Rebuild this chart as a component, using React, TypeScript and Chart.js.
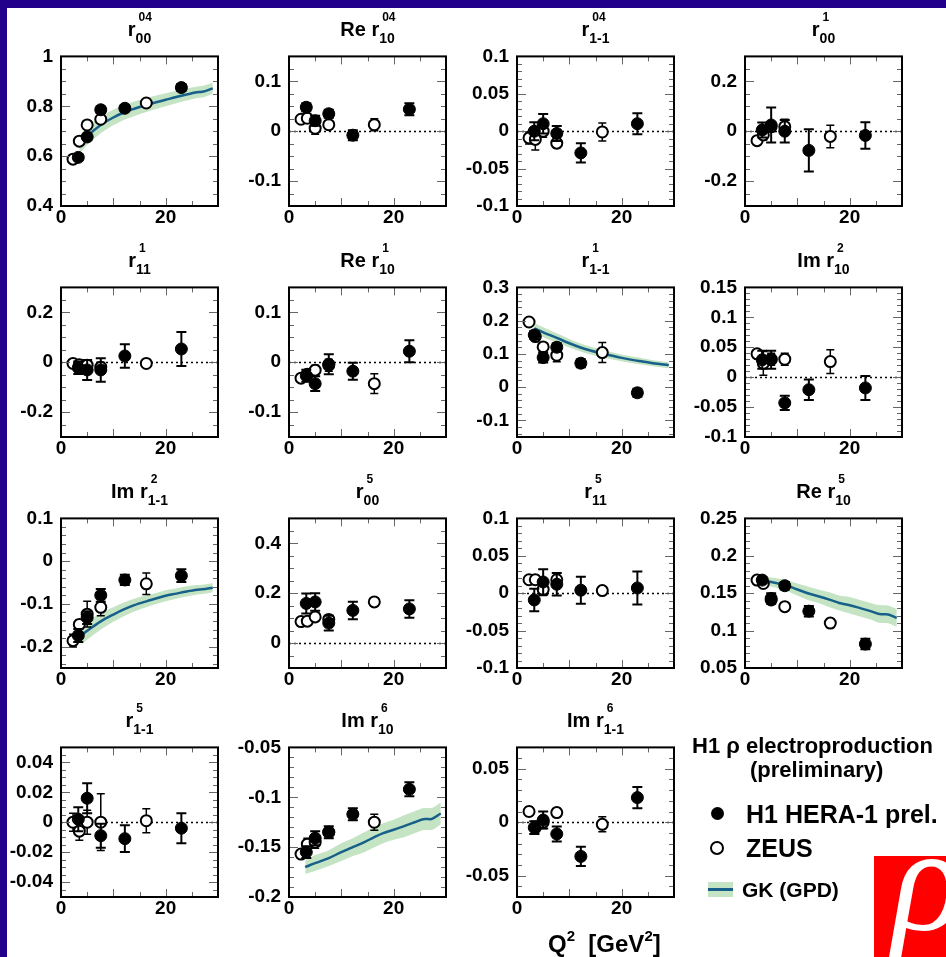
import React, { useEffect, useRef } from 'react';
import { Chart, registerables } from 'chart.js';

Chart.register(...registerables);

const FONT = "'Liberation Sans', Arial, Helvetica, sans-serif";
const BLUE = '#23008c';
const BAND = 'rgb(196, 228, 196)';
const LINE = '#17608a';

// ---------- data ----------
const h1Q2 = [3.3, 5.0, 7.6, 12.2, 23.0];
const zeusQ2 = [2.3, 3.5, 5.0, 7.6, 16.3];
const xTickLabels = [0, 20];

// r00^04
const r00_04_yTicks = [0.4, 0.6, 0.8, 1];
const r00_04_h1 = [0.595, 0.677, 0.786, 0.792, 0.875];
const r00_04_h1Err = [0.012, 0.012, 0.013, 0.012, 0.014];
const r00_04_zeus = [0.588, 0.66, 0.725, 0.748, 0.813];
const r00_04_zeusErr = [0.01, 0.01, 0.012, 0.012, 0.012];
const gk_r00_04_x = [3.5, 5, 7.6, 10, 12, 14, 16.3, 18, 20, 22, 24, 26, 27, 29];
const gk_r00_04_y = [0.645, 0.68, 0.725, 0.755, 0.775, 0.79, 0.805, 0.815, 0.826, 0.837, 0.847, 0.856, 0.858, 0.872];
const gk_r00_04_band = [0.035, 0.035, 0.033, 0.031, 0.03, 0.029, 0.028, 0.027, 0.026, 0.025, 0.024, 0.023, 0.023, 0.022];

// Re r10^04
const re_r10_04_yTicks = [-0.1, 0, 0.1];
const re_r10_04_h1 = [0.048, 0.021, 0.035, -0.008, 0.044];
const re_r10_04_h1Err = [0.008, 0.01, 0.008, 0.01, 0.012];
const re_r10_04_zeus = [0.024, 0.026, 0.006, 0.013, 0.013];
const re_r10_04_zeusErr = [0.005, 0.006, 0.012, 0.008, 0.012];

// r1-1^04
const r1m1_04_yTicks = [-0.1, -0.05, 0, 0.05, 0.1];
const r1m1_04_h1 = [0.0, 0.01, -0.003, -0.029, 0.01];
const r1m1_04_h1Err = [0.012, 0.013, 0.01, 0.013, 0.014];
const r1m1_04_zeus = [-0.009, -0.011, 0.0, -0.016, -0.001];
const r1m1_04_zeusErr = [0.008, 0.014, 0.008, 0.006, 0.012];

// r00^1
const r00_1_yTicks = [-0.2, 0, 0.2];
const r00_1_h1 = [0.005, 0.025, 0.0, -0.077, -0.017];
const r00_1_h1Err = [0.03, 0.07, 0.045, 0.085, 0.053];
const r00_1_zeus = [-0.038, -0.015, 0.018, 0.018, -0.021];
const r00_1_zeusErr = [0.01, 0.02, 0.02, 0.03, 0.045];

// r11^1
const r11_1_yTicks = [-0.2, 0, 0.2];
const r11_1_h1 = [-0.022, -0.031, -0.031, 0.025, 0.053];
const r11_1_h1Err = [0.025, 0.04, 0.047, 0.047, 0.068];
const r11_1_zeus = [-0.005, -0.01, -0.012, -0.02, -0.005];
const r11_1_zeusErr = [0.01, 0.015, 0.015, 0.02, 0.01];

// Re r10^1
const re_r10_1_yTicks = [-0.1, 0, 0.1];
const re_r10_1_h1 = [-0.027, -0.043, -0.004, -0.018, 0.022];
const re_r10_1_h1Err = [0.012, 0.015, 0.02, 0.017, 0.022];
const re_r10_1_zeus = [-0.032, -0.024, -0.016, -0.006, -0.043];
const re_r10_1_zeusErr = [0.006, 0.008, 0.01, 0.012, 0.02];

// r1-1^1
const r1m1_1_yTicks = [-0.1, 0, 0.1, 0.2, 0.3];
const r1m1_1_h1 = [0.157, 0.089, 0.12, 0.072, -0.017];
const r1m1_1_h1Err = [0.012, 0.015, 0.012, 0.012, 0.012];
const r1m1_1_zeus = [0.196, 0.152, 0.121, 0.096, 0.104];
const r1m1_1_zeusErr = [0.008, 0.012, 0.012, 0.02, 0.03];
const gk_r1m1_1_x = [3.3, 5, 7.6, 10, 12, 14, 16.3, 18, 20, 22, 24, 26, 29];
const gk_r1m1_1_y = [0.177, 0.165, 0.148, 0.132, 0.12, 0.11, 0.101, 0.095, 0.088, 0.082, 0.077, 0.072, 0.066];
const gk_r1m1_1_band = [0.016, 0.015, 0.014, 0.013, 0.012, 0.012, 0.011, 0.011, 0.01, 0.01, 0.01, 0.009, 0.009];

// Im r10^2
const im_r10_2_yTicks = [-0.1, -0.05, 0, 0.05, 0.1, 0.15];
const im_r10_2_h1 = [0.029, 0.029, -0.043, -0.021, -0.018];
const im_r10_2_h1Err = [0.015, 0.015, 0.012, 0.017, 0.02];
const im_r10_2_zeus = [0.039, 0.023, 0.03, 0.03, 0.026];
const im_r10_2_zeusErr = [0.006, 0.02, 0.01, 0.01, 0.02];

// Im r1-1^2
const im_r1m1_2_yTicks = [-0.2, -0.1, 0, 0.1];
const im_r1m1_2_h1 = [-0.174, -0.132, -0.08, -0.044, -0.034];
const im_r1m1_2_h1Err = [0.015, 0.015, 0.015, 0.012, 0.015];
const im_r1m1_2_zeus = [-0.186, -0.148, -0.124, -0.108, -0.053];
const im_r1m1_2_zeusErr = [0.015, 0.01, 0.03, 0.02, 0.025];
const gk_im_r1m1_2_x = [3.9, 5, 7.6, 10, 12, 14, 16.3, 18, 20, 22, 24, 26, 27, 29];
const gk_im_r1m1_2_y = [-0.173, -0.163, -0.141, -0.125, -0.113, -0.103, -0.094, -0.088, -0.081, -0.076, -0.071, -0.067, -0.066, -0.062];
const gk_im_r1m1_2_band = [0.022, 0.021, 0.019, 0.017, 0.016, 0.015, 0.014, 0.013, 0.013, 0.012, 0.012, 0.011, 0.011, 0.011];

// r00^5
const r00_5_yTicks = [0, 0.2, 0.4];
const r00_5_h1 = [0.159, 0.165, 0.08, 0.131, 0.137];
const r00_5_h1Err = [0.04, 0.035, 0.03, 0.035, 0.035];
const r00_5_zeus = [0.086, 0.088, 0.105, 0.095, 0.165];
const r00_5_zeusErr = [0.01, 0.01, 0.015, 0.015, 0.01];

// r11^5
const r11_5_yTicks = [-0.1, -0.05, 0, 0.05, 0.1];
const r11_5_h1 = [-0.009, 0.015, 0.012, 0.004, 0.007];
const r11_5_h1Err = [0.015, 0.017, 0.015, 0.018, 0.022];
const r11_5_zeus = [0.018, 0.018, 0.005, 0.018, 0.0035];
const r11_5_zeusErr = [0.004, 0.006, 0.008, 0.006, 0.004];

// Re r10^5
const re_r10_5_yTicks = [0.05, 0.1, 0.15, 0.2, 0.25];
const re_r10_5_h1 = [0.1675, 0.143, 0.16, 0.126, 0.082];
const re_r10_5_h1Err = [0.004, 0.007, 0.005, 0.007, 0.007];
const re_r10_5_zeus = [0.1675, 0.163, 0.141, 0.132, 0.11];
const re_r10_5_zeusErr = [0.003, 0.004, 0.004, 0.004, 0.006];
const gk_re_r10_5_x = [2.8, 5, 7.6, 10, 12, 14, 16.3, 18, 20, 22, 24, 26, 27, 29];
const gk_re_r10_5_y = [0.168, 0.165, 0.161, 0.155, 0.15, 0.146, 0.141, 0.137, 0.134, 0.13, 0.126, 0.122, 0.122, 0.117];
const gk_re_r10_5_band = [0.005, 0.006, 0.007, 0.008, 0.009, 0.009, 0.01, 0.01, 0.011, 0.011, 0.011, 0.012, 0.012, 0.012];

// r1-1^5
const r1m1_5_yTicks = [-0.04, -0.02, 0, 0.02, 0.04];
const r1m1_5_h1 = [0.002, 0.016, -0.009, -0.011, -0.004];
const r1m1_5_h1Err = [0.008, 0.01, 0.008, 0.009, 0.01];
const r1m1_5_zeus = [0.0, -0.006, 0.0, 0.0, 0.001];
const r1m1_5_zeusErr = [0.006, 0.006, 0.008, 0.019, 0.008];

// Im r10^6
const im_r10_6_yTicks = [-0.2, -0.15, -0.1, -0.05];
const im_r10_6_h1 = [-0.155, -0.141, -0.135, -0.117, -0.092];
const im_r10_6_h1Err = [0.006, 0.007, 0.006, 0.006, 0.007];
const im_r10_6_zeus = [-0.157, -0.147, -0.145, -0.135, -0.125];
const im_r10_6_zeusErr = [0.004, 0.006, 0.006, 0.005, 0.008];
const gk_im_r10_6_x = [3.1, 5, 7.6, 10, 12, 14, 16.3, 18, 20, 22, 24, 26, 27, 29];
const gk_im_r10_6_y = [-0.17, -0.166, -0.161, -0.155, -0.1505, -0.146, -0.14, -0.136, -0.1326, -0.129, -0.125, -0.1218, -0.122, -0.1163];
const gk_im_r10_6_band = [0.007, 0.008, 0.008, 0.009, 0.009, 0.01, 0.01, 0.01, 0.01, 0.011, 0.011, 0.011, 0.011, 0.011];

// Im r1-1^6
const im_r1m1_6_yTicks = [-0.05, 0, 0.05];
const im_r1m1_6_h1 = [-0.005, 0.002, -0.011, -0.032, 0.023];
const im_r1m1_6_h1Err = [0.006, 0.008, 0.007, 0.009, 0.01];
const im_r1m1_6_zeus = [0.01, -0.005, 0.0, 0.009, -0.002];
const im_r1m1_6_zeusErr = [0.004, 0.006, 0.006, 0.004, 0.007];

// ---------- layout ----------
const COL_X = [61, 289, 517, 745];
const ROW_Y = [51, 282, 513, 742];
const FW = 157;
const FH = 155;
const PAD_L = 60;
const PAD_T = 14;
const PAD_R = 12;
const PAD_B = 30;

type GK = { x: number[]; y: number[]; band: number[] };
type PanelDef = {
  pre: string; sup: string; sub: string;
  col: number; row: number;
  yMin: number; yMax: number; yTicks: number[]; minor: number; zero: boolean;
  h1: number[]; h1Err: number[]; zeus: number[]; zeusErr: number[];
  gk?: GK;
};

const panels: PanelDef[] = [
  { pre: '', sup: '04', sub: '00', col: 0, row: 0, yMin: 0.4, yMax: 1, yTicks: r00_04_yTicks, minor: 0.05, zero: false,
    h1: r00_04_h1, h1Err: r00_04_h1Err, zeus: r00_04_zeus, zeusErr: r00_04_zeusErr,
    gk: { x: gk_r00_04_x, y: gk_r00_04_y, band: gk_r00_04_band } },
  { pre: 'Re ', sup: '04', sub: '10', col: 1, row: 0, yMin: -0.15, yMax: 0.15, yTicks: re_r10_04_yTicks, minor: 0.025, zero: true,
    h1: re_r10_04_h1, h1Err: re_r10_04_h1Err, zeus: re_r10_04_zeus, zeusErr: re_r10_04_zeusErr },
  { pre: '', sup: '04', sub: '1-1', col: 2, row: 0, yMin: -0.1, yMax: 0.1, yTicks: r1m1_04_yTicks, minor: 0.01, zero: true,
    h1: r1m1_04_h1, h1Err: r1m1_04_h1Err, zeus: r1m1_04_zeus, zeusErr: r1m1_04_zeusErr },
  { pre: '', sup: '1', sub: '00', col: 3, row: 0, yMin: -0.3, yMax: 0.3, yTicks: r00_1_yTicks, minor: 0.05, zero: true,
    h1: r00_1_h1, h1Err: r00_1_h1Err, zeus: r00_1_zeus, zeusErr: r00_1_zeusErr },
  { pre: '', sup: '1', sub: '11', col: 0, row: 1, yMin: -0.3, yMax: 0.3, yTicks: r11_1_yTicks, minor: 0.05, zero: true,
    h1: r11_1_h1, h1Err: r11_1_h1Err, zeus: r11_1_zeus, zeusErr: r11_1_zeusErr },
  { pre: 'Re ', sup: '1', sub: '10', col: 1, row: 1, yMin: -0.15, yMax: 0.15, yTicks: re_r10_1_yTicks, minor: 0.025, zero: true,
    h1: re_r10_1_h1, h1Err: re_r10_1_h1Err, zeus: re_r10_1_zeus, zeusErr: re_r10_1_zeusErr },
  { pre: '', sup: '1', sub: '1-1', col: 2, row: 1, yMin: -0.15, yMax: 0.3, yTicks: r1m1_1_yTicks, minor: 0.02, zero: false,
    h1: r1m1_1_h1, h1Err: r1m1_1_h1Err, zeus: r1m1_1_zeus, zeusErr: r1m1_1_zeusErr,
    gk: { x: gk_r1m1_1_x, y: gk_r1m1_1_y, band: gk_r1m1_1_band } },
  { pre: 'Im ', sup: '2', sub: '10', col: 3, row: 1, yMin: -0.1, yMax: 0.15, yTicks: im_r10_2_yTicks, minor: 0.01, zero: true,
    h1: im_r10_2_h1, h1Err: im_r10_2_h1Err, zeus: im_r10_2_zeus, zeusErr: im_r10_2_zeusErr },
  { pre: 'Im ', sup: '2', sub: '1-1', col: 0, row: 2, yMin: -0.25, yMax: 0.1, yTicks: im_r1m1_2_yTicks, minor: 0.02, zero: false,
    h1: im_r1m1_2_h1, h1Err: im_r1m1_2_h1Err, zeus: im_r1m1_2_zeus, zeusErr: im_r1m1_2_zeusErr,
    gk: { x: gk_im_r1m1_2_x, y: gk_im_r1m1_2_y, band: gk_im_r1m1_2_band } },
  { pre: '', sup: '5', sub: '00', col: 1, row: 2, yMin: -0.1, yMax: 0.5, yTicks: r00_5_yTicks, minor: 0.05, zero: true,
    h1: r00_5_h1, h1Err: r00_5_h1Err, zeus: r00_5_zeus, zeusErr: r00_5_zeusErr },
  { pre: '', sup: '5', sub: '11', col: 2, row: 2, yMin: -0.1, yMax: 0.1, yTicks: r11_5_yTicks, minor: 0.01, zero: true,
    h1: r11_5_h1, h1Err: r11_5_h1Err, zeus: r11_5_zeus, zeusErr: r11_5_zeusErr },
  { pre: 'Re ', sup: '5', sub: '10', col: 3, row: 2, yMin: 0.05, yMax: 0.25, yTicks: re_r10_5_yTicks, minor: 0.01, zero: false,
    h1: re_r10_5_h1, h1Err: re_r10_5_h1Err, zeus: re_r10_5_zeus, zeusErr: re_r10_5_zeusErr,
    gk: { x: gk_re_r10_5_x, y: gk_re_r10_5_y, band: gk_re_r10_5_band } },
  { pre: '', sup: '5', sub: '1-1', col: 0, row: 3, yMin: -0.05, yMax: 0.05, yTicks: r1m1_5_yTicks, minor: 0.005, zero: true,
    h1: r1m1_5_h1, h1Err: r1m1_5_h1Err, zeus: r1m1_5_zeus, zeusErr: r1m1_5_zeusErr },
  { pre: 'Im ', sup: '6', sub: '10', col: 1, row: 3, yMin: -0.2, yMax: -0.05, yTicks: im_r10_6_yTicks, minor: 0.01, zero: false,
    h1: im_r10_6_h1, h1Err: im_r10_6_h1Err, zeus: im_r10_6_zeus, zeusErr: im_r10_6_zeusErr,
    gk: { x: gk_im_r10_6_x, y: gk_im_r10_6_y, band: gk_im_r10_6_band } },
  { pre: 'Im ', sup: '6', sub: '1-1', col: 2, row: 3, yMin: -0.07, yMax: 0.07, yTicks: im_r1m1_6_yTicks, minor: 0.01, zero: true,
    h1: im_r1m1_6_h1, h1Err: im_r1m1_6_h1Err, zeus: im_r1m1_6_zeus, zeusErr: im_r1m1_6_zeusErr },
];

const fmt = (v: any) => String(Math.round(Number(v) * 1000) / 1000);

const rootFramePlugin = {
  id: 'rootFrame',
  beforeDatasetsDraw(chart: any, _args: any, opts: any) {
    if (!opts.zero) return;
    const { left, right } = chart.chartArea;
    const y = Math.round(chart.scales.y.getPixelForValue(0)) + 0.5;
    const ctx = chart.ctx;
    ctx.save();
    ctx.strokeStyle = '#000';
    ctx.lineWidth = 1.5;
    ctx.setLineDash([2, 3]);
    ctx.beginPath();
    ctx.moveTo(left, y);
    ctx.lineTo(right, y);
    ctx.stroke();
    ctx.restore();
  },
  beforeDatasetDraw(chart: any, args: any) {
    const ds = chart.data.datasets[args.index];
    if (!ds.errs) return;
    const ctx = chart.ctx;
    const ys = chart.scales.y;
    const { left, right, top, bottom } = chart.chartArea;
    ctx.save();
    ctx.beginPath();
    ctx.rect(left, top, right - left, bottom - top);
    ctx.clip();
    ctx.strokeStyle = '#000';
    ctx.lineWidth = ds.errWidth;
    args.meta.data.forEach((pt: any, i: number) => {
      const v = ds.data[i].y;
      const e = ds.errs[i];
      const y1 = ys.getPixelForValue(v + e);
      const y2 = ys.getPixelForValue(v - e);
      const x = pt.x;
      ctx.beginPath();
      ctx.moveTo(x, y1);
      ctx.lineTo(x, y2);
      ctx.moveTo(x - ds.errCap, y1);
      ctx.lineTo(x + ds.errCap, y1);
      ctx.moveTo(x - ds.errCap, y2);
      ctx.lineTo(x + ds.errCap, y2);
      ctx.stroke();
    });
    ctx.restore();
  },
  afterDatasetsDraw(chart: any, _args: any, opts: any) {
    const ctx = chart.ctx;
    const { left, right, top, bottom } = chart.chartArea;
    const ys = chart.scales.y;
    const xs = chart.scales.x;
    ctx.save();
    ctx.strokeStyle = '#666';
    ctx.lineWidth = 1;
    const minor = opts.minor;
    const first = Math.ceil(opts.yMin / minor - 1e-6);
    const last = Math.floor(opts.yMax / minor + 1e-6);
    for (let k = first; k <= last; k++) {
      const v = k * minor;
      const major = opts.yTicks.some((t: number) => Math.abs(t - v) < minor / 10);
      const len = major ? 9 : 5;
      const py = Math.round(ys.getPixelForValue(v)) + 0.5;
      ctx.beginPath();
      ctx.moveTo(left, py);
      ctx.lineTo(left + len, py);
      ctx.moveTo(right - len, py);
      ctx.lineTo(right, py);
      ctx.stroke();
    }
    for (let q = 5; q < 30; q += 5) {
      const len = q % 10 === 0 ? 8 : 5;
      const px = Math.round(xs.getPixelForValue(q)) + 0.5;
      ctx.beginPath();
      ctx.moveTo(px, bottom);
      ctx.lineTo(px, bottom - len);
      ctx.moveTo(px, top);
      ctx.lineTo(px, top + len);
      ctx.stroke();
    }
    ctx.strokeStyle = '#000';
    ctx.lineWidth = 2;
    ctx.strokeRect(left, top, right - left, bottom - top);
    ctx.restore();
  },
};

function Panel({ p }: { p: PanelDef }) {
  const ref = useRef<HTMLCanvasElement>(null);
  const fx = COL_X[p.col];
  const fy = ROW_Y[p.row];
  const W = FW + PAD_L + PAD_R;
  const H = FH + PAD_T + PAD_B;

  useEffect(() => {
    if (!ref.current) return;
    const datasets: any[] = [];
    if (p.gk) {
      const g = p.gk;
      datasets.push({
        data: g.x.map((x, i) => ({ x, y: g.y[i] + g.band[i] })),
        borderWidth: 0, borderColor: 'rgba(0,0,0,0)', pointRadius: 0, order: 10,
        backgroundColor: BAND, fill: '+1', cubicInterpolationMode: 'monotone',
      });
      datasets.push({
        data: g.x.map((x, i) => ({ x, y: g.y[i] - g.band[i] })),
        borderWidth: 0, borderColor: 'rgba(0,0,0,0)', pointRadius: 0, order: 11,
        fill: false, cubicInterpolationMode: 'monotone',
      });
      datasets.push({
        data: g.x.map((x, i) => ({ x, y: g.y[i] })),
        borderWidth: 2.5, borderColor: LINE, pointRadius: 0, order: 5,
        fill: false, cubicInterpolationMode: 'monotone',
      });
    }
    datasets.push({
      data: zeusQ2.map((x, i) => ({ x, y: p.zeus[i] })),
      showLine: false, pointRadius: 5.5, pointBorderWidth: 2, order: 2,
      pointBackgroundColor: '#fff', pointBorderColor: '#000',
      errs: p.zeusErr, errCap: 4, errWidth: 1.5,
    });
    datasets.push({
      data: h1Q2.map((x, i) => ({ x, y: p.h1[i] })),
      showLine: false, pointRadius: 6, pointBorderWidth: 1, order: 1,
      pointBackgroundColor: '#000', pointBorderColor: '#000',
      errs: p.h1Err, errCap: 5, errWidth: 2,
    });

    const tickFont = { family: FONT, size: 19, weight: 'bold' as const };
    const chart = new Chart(ref.current, {
      type: 'line',
      data: { datasets },
      plugins: [rootFramePlugin],
      options: {
        animation: false,
        responsive: false,
        maintainAspectRatio: false,
        events: [],
        layout: { padding: { top: PAD_T, right: PAD_R, left: 0, bottom: 0 } },
        plugins: {
          legend: { display: false },
          tooltip: { enabled: false },
          rootFrame: { zero: p.zero, minor: p.minor, yMin: p.yMin, yMax: p.yMax, yTicks: p.yTicks },
        } as any,
        scales: {
          x: {
            type: 'linear', min: 0, max: 30,
            afterFit: (s: any) => { s.height = PAD_B; },
            afterBuildTicks: (s: any) => { s.ticks = xTickLabels.map((v) => ({ value: v })); },
            grid: { display: false, drawTicks: false },
            border: { display: false },
            ticks: { font: tickFont, color: '#000', padding: 0, maxRotation: 0, autoSkip: false, callback: fmt },
          },
          y: {
            type: 'linear', min: p.yMin, max: p.yMax,
            afterFit: (s: any) => { s.width = PAD_L; },
            afterBuildTicks: (s: any) => { s.ticks = p.yTicks.map((v) => ({ value: v })); },
            grid: { display: false, drawTicks: false },
            border: { display: false },
            ticks: { font: tickFont, color: '#000', padding: 8, autoSkip: false, callback: fmt },
          },
        },
      } as any,
    });
    return () => chart.destroy();
  }, []);

  return (
    <>
      <canvas
        ref={ref}
        width={W}
        height={H}
        style={{ position: 'absolute', left: fx - PAD_L, top: fy - PAD_T, width: W, height: H, display: 'block' }}
      />
      <div
        style={{
          position: 'absolute', left: fx - 20, width: FW + 40, top: fy - 34, height: 25,
          lineHeight: '25px', fontSize: 20, fontWeight: 'bold', textAlign: 'center', whiteSpace: 'nowrap', color: '#000',
        }}
      >
        {p.pre}r
        <span style={{ position: 'relative', display: 'inline-block' }}>
          <span style={{ position: 'relative', top: 7, fontSize: 14, lineHeight: '14px' }}>{p.sub}</span>
          <span style={{ position: 'absolute', left: 3, top: -6, fontSize: 12, lineHeight: '12px' }}>{p.sup}</span>
        </span>
      </div>
    </>
  );
}

export default function App() {
  return (
    <div
      style={{
        position: 'absolute', left: 0, top: 0, width: 946, height: 957, background: '#fff',
        overflow: 'hidden', fontFamily: FONT, color: '#000',
      }}
    >
      <div style={{ position: 'absolute', left: 0, top: 0, width: 946, height: 8, background: BLUE }} />
      <div style={{ position: 'absolute', left: 0, top: 0, width: 7, height: 957, background: BLUE }} />
      {panels.map((p, i) => (
        <Panel key={i} p={p} />
      ))}

      {/* legend */}
      <div style={{ position: 'absolute', left: 692, top: 735, fontSize: 22, lineHeight: '22px', fontWeight: 'bold', whiteSpace: 'nowrap' }}>
        H1 ρ electroproduction
      </div>
      <div style={{ position: 'absolute', left: 750, top: 759, fontSize: 22, lineHeight: '22px', fontWeight: 'bold', whiteSpace: 'nowrap' }}>
        (preliminary)
      </div>
      <div style={{ position: 'absolute', left: 711, top: 807, width: 13, height: 13, borderRadius: '50%', background: '#000' }} />
      <div style={{ position: 'absolute', left: 746, top: 802, fontSize: 25, lineHeight: '25px', fontWeight: 'bold', whiteSpace: 'nowrap' }}>
        H1 HERA-1 prel.
      </div>
      <div style={{ position: 'absolute', left: 710, top: 841, width: 10, height: 10, borderRadius: '50%', border: '2px solid #000', background: '#fff' }} />
      <div style={{ position: 'absolute', left: 746, top: 836, fontSize: 25, lineHeight: '25px', fontWeight: 'bold', whiteSpace: 'nowrap' }}>
        ZEUS
      </div>
      <div style={{ position: 'absolute', left: 708, top: 882, width: 25, height: 15, background: BAND }} />
      <div style={{ position: 'absolute', left: 708, top: 888, width: 25, height: 2.5, background: LINE }} />
      <div style={{ position: 'absolute', left: 742, top: 879, fontSize: 21, lineHeight: '21px', fontWeight: 'bold', whiteSpace: 'nowrap' }}>
        GK (GPD)
      </div>

      {/* x axis title */}
      <div style={{ position: 'absolute', left: 548, top: 932, fontSize: 24, lineHeight: '24px', fontWeight: 'bold', whiteSpace: 'pre' }}>
        Q<span style={{ fontSize: 15, position: 'relative', top: -11 }}>2</span>{'  [GeV'}
        <span style={{ fontSize: 15, position: 'relative', top: -11 }}>2</span>]
      </div>

      {/* logo */}
      <div style={{ position: 'absolute', left: 874, top: 856, width: 72, height: 101, background: '#ff0000', overflow: 'hidden' }}>
        <span
          style={{
            position: 'absolute', left: 18, top: -52, fontSize: 150, lineHeight: '150px', fontStyle: 'italic',
            fontFamily: "'Liberation Serif', 'DejaVu Serif', serif", color: '#fff',
          }}
        >
          ρ
        </span>
      </div>
    </div>
  );
}
